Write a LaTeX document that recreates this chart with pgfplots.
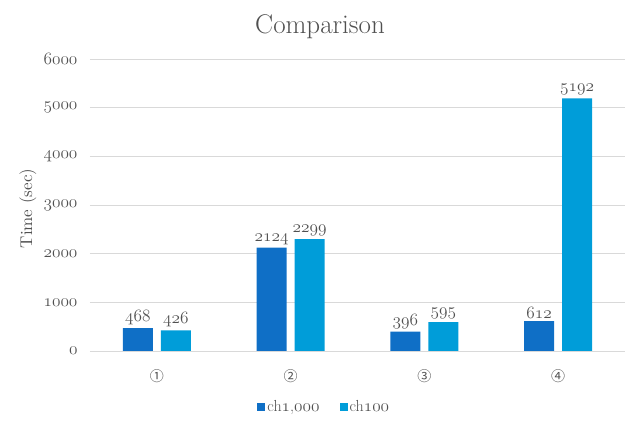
\documentclass[border=0pt]{standalone}
\usepackage{pgfplots}
\pgfplotsset{compat=1.18}
\usepackage{fontspec}
\newfontfamily\cjk{Noto Sans CJK SC}
\newcommand\osn[1]{{\usefont{OML}{cmm}{m}{it}#1}}
\definecolor{txt}{HTML}{505050}
\definecolor{gridc}{HTML}{D9D9D9}
\definecolor{sA}{HTML}{0F6FC6}
\definecolor{sB}{HTML}{009DD9}
\begin{document}
\begin{tikzpicture}
\useasboundingbox (-90pt,-76pt) rectangle (550pt,351pt);
\begin{axis}[
  at={(0pt,0pt)}, anchor=south west,
  scale only axis, width=535pt, height=292pt,
  xmin=-0.5, xmax=3.5, ymin=0, ymax=6000,
  /pgf/number format/assume math mode=true,
  xtick={0,1,2,3}, xticklabels={①,②,③,④},
  xticklabel style={font=\cjk\fontsize{14}{14}\selectfont, text=txt, yshift=-15pt},
  ytick={0,1000,2000,3000,4000,5000,6000},
  yticklabels={\osn{0},\osn{1000},\osn{2000},\osn{3000},\osn{4000},\osn{5000},\osn{6000}},
  yticklabel style={font=\fontsize{17}{17}\selectfont, text=txt, xshift=-9pt},
  major tick length=0pt,
  axis line style={draw=none},
  ymajorgrids, grid style={gridc, line width=0.8pt},
  ybar, bar width=0.224,
  legend image code/.code={\fill[#1] (0pt,-4pt) rectangle (8pt,4pt);},
  nodes near coords={\osn{\pgfmathprintnumber[fixed,precision=0,1000 sep={}]{\pgfplotspointmeta}}},
  nodes near coords style={font=\fontsize{17}{17}\selectfont, text=txt, inner sep=3pt},
  every axis title shift=0pt,
  title={\fontsize{27}{29}\selectfont Comparison},
  title style={at={(0.43,1.11)}, anchor=center, text=txt},
  ylabel={\scalebox{1.7}{Time (sec)}},
  ylabel style={at={(axis description cs:-0.116,0.488)}, anchor=center, text=txt},
  legend style={at={(0.438,-0.192)}, anchor=center, draw=none, fill=none, legend columns=2, font=\fontsize{16}{16}\selectfont, text=txt, /tikz/every even column/.append style={column sep=18pt}},
]
\addplot[fill=sA, draw=none, bar shift=-0.142] coordinates {(0,468) (1,2124) (2,396) (3,612)};
\addplot[fill=sB, draw=none, bar shift=0.142] coordinates {(0,426) (1,2299) (2,595) (3,5192)};
\legend{{ch\osn{1},\osn{000}}, ch\osn{100}}
\end{axis}
\end{tikzpicture}
\end{document}
